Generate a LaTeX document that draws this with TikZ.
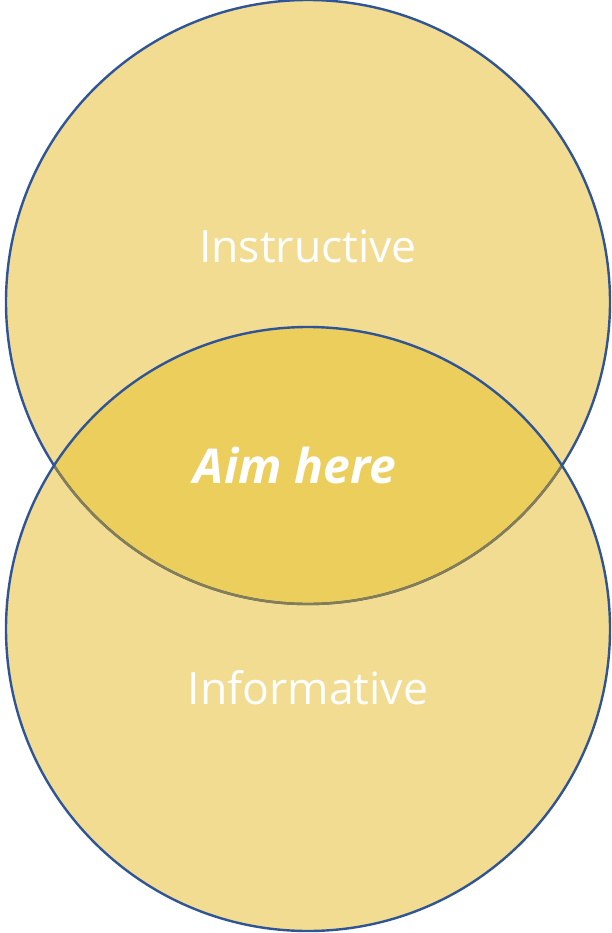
\documentclass[tikz,border=0pt]{standalone}
\usepackage{fontspec}
\setmainfont{Open Sans}
\definecolor{lightgold}{HTML}{F1DC92}
\definecolor{midgold}{HTML}{EBCE5C}
\definecolor{ringblue}{HTML}{2F5597}
\definecolor{ringgray}{HTML}{857D55}
\tikzset{
  ring/.style={draw=ringblue, line width=2.4pt},
  lbl/.style={text=white, font=\fontsize{44.5}{52}\selectfont, inner sep=0pt}
}
\begin{document}
\begin{tikzpicture}[x=1pt,y=-1pt]
\useasboundingbox (0,0) rectangle (611,933);
\coordinate (ct) at (308,302);
\coordinate (cb) at (308,629);
\fill[lightgold] (ct) circle (302);
\fill[lightgold] (cb) circle (302);
\begin{scope}
  \clip (ct) circle (302);
  \fill[midgold] (cb) circle (302);
\end{scope}
\draw[ring] (ct) circle (302);
\begin{scope}
  \clip (cb) circle (302);
  \draw[draw=ringgray, line width=2.4pt] (ct) circle (302);
\end{scope}
\draw[ring] (cb) circle (302);
\node[lbl] (ins) at (308,246) {Instructive};
\node[lbl] (inf) at (308,688) {Informative};
\node[lbl, font=\fontsize{48}{56}\selectfont\bfseries\itshape] (aim) at (295,465) {Aim here};
\end{tikzpicture}
\end{document}
